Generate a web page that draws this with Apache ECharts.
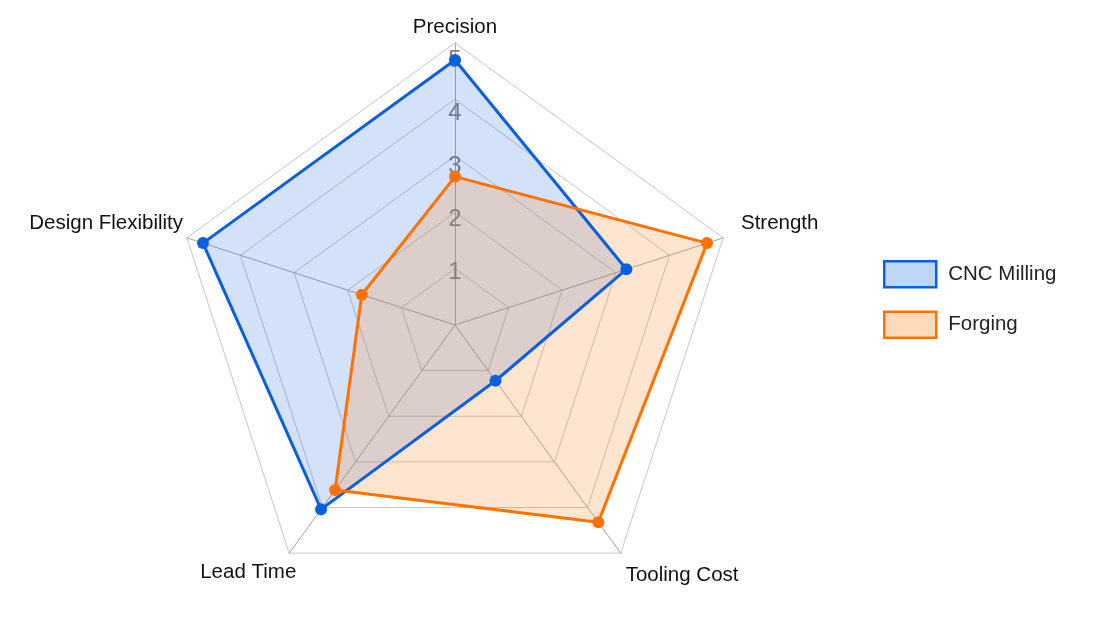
<!DOCTYPE html>
<html>
<head>
<meta charset="utf-8">
<script src="https://cdn.jsdelivr.net/npm/echarts@6/dist/echarts.min.js"></script>
<style>
  html, body { margin: 0; padding: 0; background: #ffffff; }
  #chart { width: 1119px; height: 630px; }
</style>
</head>
<body>
<div id="chart"></div>
<script>
// indicator order: ECharts places them counter-clockwise from the top
const indicators = ['Precision', 'Design Flexibility', 'Lead Time', 'Tooling Cost', 'Strength']
const maxValue = 5
const seriesNames = ['CNC Milling', 'Forging']
const cncValues = [5, 5, 4.3, 1.3, 3.4]
const forgingValues = [2.8, 1.85, 3.85, 4.6, 5]

const blue = '#0b5fdc'
const orange = '#ff7200'
const blueFill = 'rgba(11,95,220,0.26)'
const orangeFill = 'rgba(250,140,40,0.32)'
const center = [455, 325]

// rich style key per axis name
const nameStyleKey = {
    'Precision': 't',
    'Design Flexibility': 'l',
    'Strength': 'r',
    'Lead Time': 'bl',
    'Tooling Cost': 'br'
}

const chart = echarts.init(document.getElementById('chart'))

const option = {
    backgroundColor: '#ffffff',
    textStyle: { fontFamily: 'Liberation Sans, Arial, sans-serif' },
    legend: {
        orient: 'vertical',
        left: 883,
        top: 260,
        padding: 0,
        itemWidth: 52,
        itemHeight: 26,
        itemGap: 22,
        textStyle: { fontSize: 20.5, color: '#222', padding: [0, 0, 0, 7] },
        data: [
            { name: seriesNames[0], icon: 'rect', itemStyle: { color: blueFill, borderColor: blue, borderWidth: 2.5 } },
            { name: seriesNames[1], icon: 'rect', itemStyle: { color: orangeFill, borderColor: orange, borderWidth: 2.5 } }
        ]
    },
    radar: [
        {
            // grid and axis names
            center: center,
            radius: 282,
            startAngle: 90,
            splitNumber: 5,
            shape: 'polygon',
            nameGap: 5,
            axisName: {
                color: '#111',
                fontSize: 20.5,
                formatter: name => '{' + nameStyleKey[name] + '|' + name + '}',
                rich: {
                    t: { fontSize: 20.5, color: '#111' },
                    l: { fontSize: 20.5, color: '#111', padding: [0, -1, 26, 0] },
                    r: { fontSize: 20.5, color: '#111', padding: [0, 0, 26, 13] },
                    bl: { fontSize: 20.5, color: '#111', padding: [30, -10, 0, 0] },
                    br: { fontSize: 20.5, color: '#111', padding: [36, 0, 0, 2] }
                }
            },
            splitArea: { show: false },
            splitLine: { lineStyle: { color: '#c6c6c6', width: 1 } },
            axisLine: { lineStyle: { color: '#a6a6a6', width: 1 } },
            indicator: indicators.map(name => ({ name: name, min: 0, max: maxValue }))
        },
        {
            // value scale for the series
            center: center,
            radius: 265,
            startAngle: 90,
            splitNumber: 5,
            shape: 'polygon',
            axisName: { show: false },
            splitArea: { show: false },
            splitLine: { show: false },
            axisLine: { show: false },
            axisLabel: { show: false, color: '#808080', fontSize: 24 },
            indicator: indicators.map((name, i) => ({
                name: name,
                min: 0,
                max: maxValue,
                axisLabel: i === 0
                    ? {
                        show: true, color: '#808080', fontSize: 24, margin: 0, align: 'center',
                        formatter: v => (v === 0 ? '' : String(v))
                    }
                    : { show: false }
            }))
        }
    ],
    series: [
        {
            // filled areas underneath
            type: 'radar',
            radarIndex: 1,
            symbol: 'none',
            silent: true,
            lineStyle: { width: 0, opacity: 0 },
            data: [
                { name: seriesNames[0], value: cncValues, itemStyle: { color: blue }, areaStyle: { color: blueFill } },
                { name: seriesNames[1], value: forgingValues, itemStyle: { color: orange }, areaStyle: { color: orangeFill } }
            ]
        },
        {
            // outlines and points on top
            type: 'radar',
            radarIndex: 1,
            symbol: 'circle',
            symbolSize: 12,
            data: [
                {
                    name: seriesNames[0],
                    value: cncValues,
                    itemStyle: { color: blue },
                    lineStyle: { color: blue, width: 3 }
                },
                {
                    name: seriesNames[1],
                    value: forgingValues,
                    itemStyle: { color: orange },
                    lineStyle: { color: orange, width: 3 }
                }
            ]
        }
    ]
}

chart.setOption(option)
</script>
</body>
</html>
